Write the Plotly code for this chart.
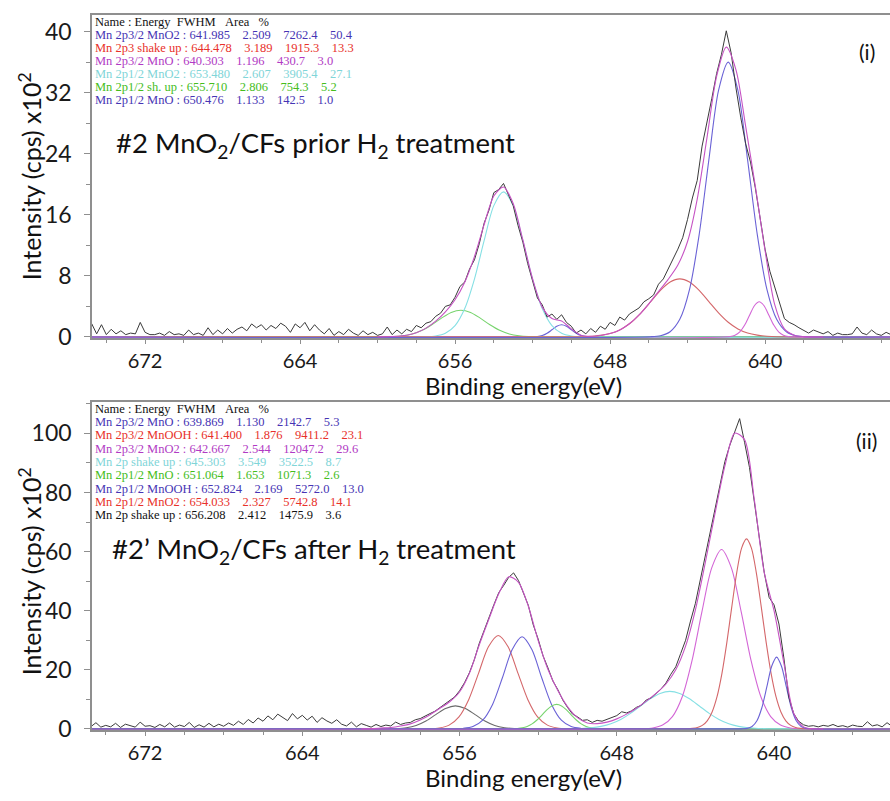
import numpy as np
import plotly.graph_objects as go

# ================= DATA =================
# ---- Panel (i): #2 MnO2/CFs prior H2 treatment ----
p1_table_names = ["Mn 2p3/2 MnO2", "Mn 2p3 shake up", "Mn 2p3/2 MnO", "Mn 2p1/2 MnO2", "Mn 2p1/2 sh. up", "Mn 2p1/2 MnO"]
p1_table_energy = ["641.985", "644.478", "640.303", "653.480", "655.710", "650.476"]
p1_table_fwhm = ["2.509", "3.189", "1.196", "2.607", "2.806", "1.133"]
p1_table_area = ["7262.4", "1915.3", "430.7", "3905.4", "754.3", "142.5"]
p1_table_pct = ["50.4", "13.3", "3.0", "27.1", "5.2", "1.0"]

# measured spectrum, 0.25 eV steps starting at 633.0 eV (x10^2 cps)
p1_raw_start = 633.0
p1_raw_step = 0.25
p1_raw = [
    0.4, 0.2, 0.3, 0.6,
    0.2, 0.4, 0.9, 0.3,
    0.5, 1.3, 0.4, 0.3,
    0.3, 0.5, 0.2, 0.7,
    0.4, 0.6, 0.9, 0.5,
    0.8, 1.2, 1.6, 1.9,
    2.4, 4.4, 6.5, 8.6,
    11.5, 15.8, 19.5, 22.9,
    25.3, 28.7, 32.6, 37.2,
    40.1, 37.0, 34.5, 31.2,
    27.9, 25.0, 20.5, 18.2,
    15.4, 13.0, 11.5, 10.2,
    9.0, 7.6, 6.9, 5.5,
    5.0, 4.6, 3.8, 3.4,
    3.0, 2.2, 2.6, 1.5,
    1.9, 1.0, 1.4, 0.6,
    1.1, 0.4, 0.9, 0.5,
    1.4, 1.9, 2.9, 2.3,
    3.0, 2.6, 4.2, 5.1,
    7.3, 9.6, 12.4, 14.6,
    17.2, 18.6, 20.1, 19.3,
    18.9, 16.6, 14.9, 12.2,
    10.1, 8.9, 7.2, 6.6,
    5.2, 4.2, 4.0, 3.1,
    2.7, 2.0, 1.8, 1.2,
    1.5, 0.7, 1.0, 0.4,
    0.9, 0.3, 1.3, 0.4,
    0.2, 0.6, 0.3, 0.8,
    0.2, 0.5, 1.0, 0.3,
    0.7, 0.2, 1.1, 0.4,
    0.9, 1.6, 0.8, 1.9,
    1.2, 1.7, 0.6, 1.4,
    1.8, 1.1, 1.5, 0.9,
    1.6, 1.2, 1.7, 0.8,
    1.3, 1.0, 0.5, 1.1,
    0.4, 0.9, 0.3, 1.2,
    0.2, 0.5, 0.3, 0.9,
    0.2, 0.4, 0.3, 0.7,
    0.2, 0.5, 0.3, 0.3,
    0.6, 1.9, 0.4, 0.5,
    0.3, 0.8, 0.4, 1.0,
    0.3, 1.6, 0.4, 1.7,
    0.3,
]

# fitted envelope, 0.5 eV steps from 637.0 eV
p1_env_start = 637.0
p1_env_step = 0.5
p1_env = [0.0, 0.0, 0.04, 0.23, 1.05, 4.22, 11.32, 19.73, 27.58, 34.98, 37.96, 34.13,
          26.04, 18.06, 12.5, 9.42, 7.54, 5.94, 4.34, 2.88, 1.72, 0.92, 0.44, 0.19,
          0.08, 0.23, 1.06, 2.08, 2.41, 3.90, 7.62, 12.7, 17.47, 19.64, 18.46, 14.71,
          10.52, 7.17, 4.87, 3.27, 2.06, 1.15, 0.54, 0.22, 0.08, 0.02, 0.01]

# fitted components (start eV, step eV, values)
p1_mno2_32_start, p1_mno2_32_step = 637.9, 0.5
p1_mno2_32 = [0.03, 0.16, 0.68, 2.30, 6.19, 13.4, 23.2, 32.3, 36.0, 32.3, 23.2, 13.4, 6.19, 2.30, 0.68, 0.16, 0.03]
p1_shake_start, p1_shake_step = 639.4, 0.5
p1_shake = [0.03, 0.09, 0.23, 0.51, 1.05, 1.92, 3.15, 4.63, 6.10, 7.19, 7.6, 7.19, 6.10, 4.63, 3.15, 1.92, 1.05, 0.51, 0.23, 0.09, 0.03]
p1_mno_32_start, p1_mno_32_step = 638.8, 0.25
p1_mno_32 = [0.06, 0.22, 0.66, 1.55, 2.83, 4.08, 4.6, 4.08, 2.83, 1.55, 0.66, 0.22, 0.06]
p1_mno2_12_start, p1_mno2_12_step = 649.5, 0.5
p1_mno2_12 = [0.03, 0.13, 0.48, 1.48, 3.72, 7.58, 12.6, 17.2, 19.0, 17.2, 12.6, 7.58, 3.72, 1.48, 0.48, 0.13, 0.03]
p1_shup_12_start, p1_shup_12_step = 651.7, 0.5
p1_shup_12 = [0.01, 0.05, 0.15, 0.39, 0.86, 1.59, 2.46, 3.21, 3.5, 3.21, 2.46, 1.59, 0.86, 0.39, 0.15, 0.05, 0.01]
p1_mno_12_start, p1_mno_12_step = 649.0, 0.25
p1_mno_12 = [0.01, 0.05, 0.18, 0.48, 0.93, 1.40, 1.6, 1.40, 0.93, 0.48, 0.18, 0.05, 0.01]

# ---- Panel (ii): #2' MnO2/CFs after H2 treatment ----
p2_table_names = ["Mn 2p3/2 MnO", "Mn 2p3/2 MnOOH", "Mn 2p3/2 MnO2", "Mn 2p shake up", "Mn 2p1/2 MnO",
                  "Mn 2p1/2 MnOOH", "Mn 2p1/2 MnO2", "Mn 2p shake up"]
p2_table_energy = ["639.869", "641.400", "642.667", "645.303", "651.064", "652.824", "654.033", "656.208"]
p2_table_fwhm = ["1.130", "1.876", "2.544", "3.549", "1.653", "2.169", "2.327", "2.412"]
p2_table_area = ["2142.7", "9411.2", "12047.2", "3522.5", "1071.3", "5272.0", "5742.8", "1475.9"]
p2_table_pct = ["5.3", "23.1", "29.6", "8.7", "2.6", "13.0", "14.1", "3.6"]

p2_raw_start = 633.0
p2_raw_step = 0.25
p2_raw = [
    0.8, 1.5, 0.6, 1.2,
    0.9, 2.1, 0.7, 1.4,
    1.0, 2.4, 0.8, 0.9,
    1.3, 0.6, 1.1, 0.8,
    1.5, 0.9, 1.2, 0.7,
    1.1, 0.9, 1.4, 2.6,
    5.2, 10.8, 24.0, 35.5,
    42.0, 44.5, 53.0, 64.5,
    76.5, 88.5, 97.0, 105.0,
    100.5, 96.0, 90.5, 82.5,
    75.0, 67.0, 58.5, 50.0,
    42.5, 36.5, 30.0, 25.5,
    21.0, 18.5, 15.5, 13.5,
    12.0, 10.5, 9.8, 8.0,
    7.3, 6.1, 5.4, 5.8,
    4.5, 3.9, 3.2, 2.6,
    2.9, 2.2, 3.1, 2.9,
    4.1, 5.0, 7.2, 9.8,
    13.3, 16.2, 20.6, 24.7,
    30.4, 35.2, 41.8, 46.0,
    50.2, 52.8, 51.3, 48.6,
    46.2, 42.1, 37.6, 33.2,
    28.9, 23.4, 19.0, 15.6,
    12.9, 10.8, 9.6, 8.5,
    7.3, 6.0, 5.2, 4.4,
    3.5, 3.1, 2.2, 2.0,
    1.5, 2.3, 1.0, 1.3,
    0.8, 1.5, 0.6, 1.2,
    1.8, 0.7, 2.3, 1.0,
    1.6, 3.1, 1.9, 2.7,
    3.8, 2.2, 4.3, 3.0,
    4.6, 3.4, 5.2, 2.8,
    3.9, 5.0, 3.1, 4.4,
    2.6, 3.7, 2.0, 3.2,
    1.5, 2.6, 1.2, 2.0,
    0.9, 1.6, 0.7, 1.9,
    0.6, 1.4, 0.5, 2.2,
    0.8, 1.3, 0.6, 2.0,
    0.7, 1.5, 0.5, 1.1,
    0.9, 2.3, 0.6, 1.0,
    1.6, 0.5, 1.9, 0.7,
    1.2, 0.6, 2.1, 0.8,
    1.0,
]

p2_env_start = 637.5
p2_env_step = 0.5
p2_env = [0.0, 0.05, 0.7, 5.3, 22.3, 40.0, 53.0, 77.4, 97.9, 100.1, 89.0, 73.0, 56.2, 40.3,
          28.0, 20.0, 15.2, 12.0, 9.4, 7.0, 5.0, 3.4, 2.3, 1.8, 2.0, 3.8, 7.5, 13.0, 20.1,
          29.9, 41.5, 49.6, 51.5, 45.8, 37.3, 28.4, 18.8, 12.5, 9.2, 7.0, 4.8, 3.0, 1.7,
          1.0, 0.5, 0.3, 0.1, 0.0]

p2_mno_32_start, p2_mno_32_step = 638.12, 0.25
p2_mno_32 = [0.03, 0.18, 0.82, 2.77, 7.17, 14.1, 21.2, 24.3, 21.2, 14.1, 7.17, 2.77, 0.82, 0.18, 0.03]
p2_mnooh_32_start, p2_mnooh_32_step = 638.4, 0.25
p2_mnooh_32 = [0.05, 0.17, 0.47, 1.19, 2.75, 5.75, 10.9, 18.8, 29.3, 41.3, 52.8, 61.2, 64.3, 61.2,
               52.8, 41.3, 29.3, 18.8, 10.9, 5.75, 2.75, 1.19, 0.47, 0.17, 0.05]
p2_mno2_32_start, p2_mno2_32_step = 638.67, 0.5
p2_mno2_32 = [0.06, 0.32, 1.29, 4.18, 10.9, 23.2, 39.6, 54.5, 60.7, 54.5, 39.6, 23.2, 10.9, 4.18, 1.29, 0.32, 0.06]
p2_shake_start, p2_shake_step = 640.3, 0.5
p2_shake = [0.05, 0.15, 0.38, 0.86, 1.75, 3.21, 5.27, 7.74, 10.19, 12.02, 12.7, 12.02, 10.19, 7.74,
            5.27, 3.21, 1.75, 0.86, 0.38, 0.15, 0.05]
p2_mno_12_start, p2_mno_12_step = 648.56, 0.25
p2_mno_12 = [0.01, 0.05, 0.14, 0.37, 0.85, 1.70, 3.01, 4.69, 6.44, 7.79, 8.3, 7.79, 6.44, 4.69, 3.01,
             1.70, 0.85, 0.37, 0.14, 0.05, 0.01]
p2_mnooh_12_start, p2_mnooh_12_step = 649.32, 0.5
p2_mnooh_12 = [0.02, 0.16, 0.78, 2.95, 8.29, 17.3, 26.9, 31.2, 26.9, 17.3, 8.29, 2.95, 0.78, 0.16, 0.02]
p2_mno2_12_start, p2_mno2_12_step = 650.53, 0.5
p2_mno2_12 = [0.06, 0.32, 1.28, 4.08, 9.99, 18.9, 27.8, 31.6, 27.8, 18.9, 9.99, 4.08, 1.28, 0.32, 0.06]
p2_shake2_start, p2_shake2_step = 652.71, 0.5
p2_shake2 = [0.02, 0.11, 0.40, 1.16, 2.67, 4.84, 6.93, 7.8, 6.93, 4.84, 2.67, 1.16, 0.40, 0.11, 0.02]

# ================= STYLE =================
C_BLUE = "#6a62d6"
C_RED = "#d4676a"
C_MAG = "#d366d6"
C_CYAN = "#86e0e4"
C_GREEN = "#78d46e"
C_BLACK = "#6a6a6a"
C_ENV = "#c653c4"
C_RAW = "#3a3a3a"

T_BLUE = "#4634b4"
T_RED = "#e8302a"
T_MAG = "#b13ac4"
T_CYAN = "#7fd5d8"
T_GREEN = "#45bd1c"
T_BLACK = "#111111"

W, H = 890, 801
FONT = "Lato"


def grid(start, step, vals):
    return [round(start + step * i, 4) for i in range(len(vals))]


fig = go.Figure()


def comp(xa, ya, start, step, vals, color, lo=632.0, hi=677.0):
    xs = [lo] + grid(start, step, vals) + [hi]
    ys = [0.0] + list(vals) + [0.0]
    fig.add_trace(go.Scatter(x=xs, y=ys, mode="lines", xaxis=xa, yaxis=ya,
                             line=dict(color=color, width=1.1, shape="spline", smoothing=0.8),
                             hoverinfo="skip"))


def line(xa, ya, start, step, vals, color, width, shape):
    fig.add_trace(go.Scatter(x=grid(start, step, vals), y=vals, mode="lines", xaxis=xa, yaxis=ya,
                             line=dict(color=color, width=width, shape=shape, smoothing=0.8),
                             hoverinfo="skip"))


# ---- panel (i) traces ----
comp("x", "y", p1_mno_12_start, p1_mno_12_step, p1_mno_12, C_BLUE)
comp("x", "y", p1_shup_12_start, p1_shup_12_step, p1_shup_12, C_GREEN)
comp("x", "y", p1_mno2_12_start, p1_mno2_12_step, p1_mno2_12, C_CYAN)
comp("x", "y", p1_shake_start, p1_shake_step, p1_shake, C_RED)
comp("x", "y", p1_mno_32_start, p1_mno_32_step, p1_mno_32, C_MAG)
comp("x", "y", p1_mno2_32_start, p1_mno2_32_step, p1_mno2_32, C_BLUE)
line("x", "y", p1_raw_start, p1_raw_step, p1_raw, C_RAW, 1.0, "linear")
line("x", "y", p1_env_start, p1_env_step, p1_env, C_ENV, 1.1, "spline")

# ---- panel (ii) traces ----
comp("x2", "y2", p2_shake2_start, p2_shake2_step, p2_shake2, C_BLACK)
comp("x2", "y2", p2_mno2_12_start, p2_mno2_12_step, p2_mno2_12, C_RED)
comp("x2", "y2", p2_mnooh_12_start, p2_mnooh_12_step, p2_mnooh_12, C_BLUE)
comp("x2", "y2", p2_mno_12_start, p2_mno_12_step, p2_mno_12, C_GREEN)
comp("x2", "y2", p2_shake_start, p2_shake_step, p2_shake, C_CYAN)
comp("x2", "y2", p2_mno2_32_start, p2_mno2_32_step, p2_mno2_32, C_MAG)
comp("x2", "y2", p2_mnooh_32_start, p2_mnooh_32_step, p2_mnooh_32, C_RED)
comp("x2", "y2", p2_mno_32_start, p2_mno_32_step, p2_mno_32, C_BLUE)
line("x2", "y2", p2_raw_start, p2_raw_step, p2_raw, C_RAW, 1.0, "linear")
line("x2", "y2", p2_env_start, p2_env_step, p2_env, C_ENV, 1.1, "spline")

# ================= LAYOUT =================
def px_x(px):
    return px / W


def px_y(py):
    return 1 - py / H


axcol = "#8f8f8f"


def xaxis_cfg(dom, rng, anchor):
    return dict(domain=dom, range=rng, anchor=anchor, tick0=640, dtick=8, ticks="outside", ticklen=4,
                tickwidth=1, tickcolor=axcol, showline=True, linecolor=axcol, linewidth=1.5, mirror=True,
                showgrid=False, zeroline=False, tickfont=dict(family=FONT, size=20, color="#1a1a1a"),
                layer="below traces", ticklabelstandoff=0,
                minor=dict(dtick=2, tick0=640, ticks="outside", ticklen=3, tickcolor=axcol, showgrid=False))


def yaxis_cfg(dom, rng, anchor, dt, mdt):
    return dict(domain=dom, range=rng, anchor=anchor, tick0=0, dtick=dt, ticks="outside", ticklen=6,
                tickwidth=1, tickcolor=axcol, showline=True, linecolor=axcol, linewidth=1.5,
                showgrid=False, zeroline=False, tickfont=dict(family=FONT, size=23, color="#1a1a1a"),
                layer="below traces", ticklabelstandoff=8,
                minor=dict(dtick=mdt, tick0=0, ticks="outside", ticklen=4, tickcolor=axcol, showgrid=False))


fig.update_layout(
    width=W, height=H, margin=dict(l=0, r=0, t=0, b=0),
    paper_bgcolor="white", plot_bgcolor="white", showlegend=False,
    xaxis=xaxis_cfg([px_x(92), 1.0], [674.74, 633.55], "y"),
    yaxis=yaxis_cfg([px_y(343.2), px_y(15)], [-0.15, 42.2], "x", 8, 4),
    xaxis2=xaxis_cfg([px_x(92), 1.0], [674.7, 634.1], "y2"),
    yaxis2=yaxis_cfg([px_y(741.2), px_y(408)], [-0.4, 110.67], "x2", 20, 10),
)

ann = []
NB = "\u00a0"
TFS = 12.5


def table(rows_names, en, fw, ar, pc, colors, top_py, step_py):
    header = "Name" + NB + ":" + NB + "Energy" + NB * 2 + "FWHM" + NB * 3 + "Area" + NB * 3 + "%"
    ann.append(dict(x=px_x(94), y=px_y(top_py), xref="paper", yref="paper", text=header,
                    showarrow=False, xanchor="left", yanchor="middle", borderpad=0,
                    font=dict(family="Liberation Serif", size=TFS, color="#111111")))
    for i, nm in enumerate(rows_names):
        s = (nm.replace(" ", NB) + NB + ":" + NB + en[i] + NB * 4 + fw[i] + NB * 4 + ar[i] + NB * 4 + pc[i])
        ann.append(dict(x=px_x(94), y=px_y(top_py + step_py * (i + 1)), xref="paper", yref="paper", text=s,
                        showarrow=False, xanchor="left", yanchor="middle", borderpad=0,
                        font=dict(family="Liberation Serif", size=TFS, color=colors[i])))


table(p1_table_names, p1_table_energy, p1_table_fwhm, p1_table_area, p1_table_pct,
      [T_BLUE, T_RED, T_MAG, T_CYAN, T_GREEN, T_BLUE], 22.5, 13.2)
table(p2_table_names, p2_table_energy, p2_table_fwhm, p2_table_area, p2_table_pct,
      [T_BLUE, T_RED, T_MAG, T_CYAN, T_GREEN, T_BLUE, T_RED, T_BLACK], 415, 13.5)

big = dict(family=FONT, size=27.5, color="#111111")
ann += [
    dict(x=px_x(114), y=px_y(147), xref="paper", yref="paper", xanchor="left", yanchor="middle",
         text="#2 MnO<sub>2</sub>/CFs prior H<sub>2</sub> treatment", showarrow=False, font=big),
    dict(x=px_x(110), y=px_y(559), xref="paper", yref="paper", xanchor="left", yanchor="middle",
         text="#2\u2019 MnO<sub>2</sub>/CFs after H<sub>2</sub> treatment", showarrow=False, font=big),
    dict(x=px_x(867), y=px_y(52), xref="paper", yref="paper", xanchor="center", yanchor="middle",
         text="(i)", showarrow=False, font=dict(family=FONT, size=21, color="#111111")),
    dict(x=px_x(866), y=px_y(447), xref="paper", yref="paper", xanchor="center", yanchor="middle",
         text="(ii)", showarrow=False, font=dict(family=FONT, size=21, color="#111111")),
    dict(x=px_x(523), y=px_y(391), xref="paper", yref="paper", xanchor="center", yanchor="middle",
         text="Binding energy(eV)", showarrow=False, borderpad=0,
         font=dict(family=FONT, size=24, color="#111111")),
    dict(x=px_x(523), y=px_y(789), xref="paper", yref="paper", xanchor="center", yanchor="middle",
         text="Binding energy(eV)", showarrow=False, borderpad=0,
         font=dict(family=FONT, size=24, color="#111111")),
    dict(x=px_x(30), y=px_y(179), xref="paper", yref="paper", xanchor="center", yanchor="middle",
         text="Intensity (cps) x10<sup>2</sup>", textangle=-90, showarrow=False,
         font=dict(family=FONT, size=25, color="#111111")),
    dict(x=px_x(30), y=px_y(580), xref="paper", yref="paper", xanchor="center", yanchor="middle",
         text="Intensity (cps) x10<sup>2</sup>", textangle=-90, showarrow=False,
         font=dict(family=FONT, size=25, color="#111111")),
]
fig.update_layout(annotations=ann)

fig.write_html("out.html")
